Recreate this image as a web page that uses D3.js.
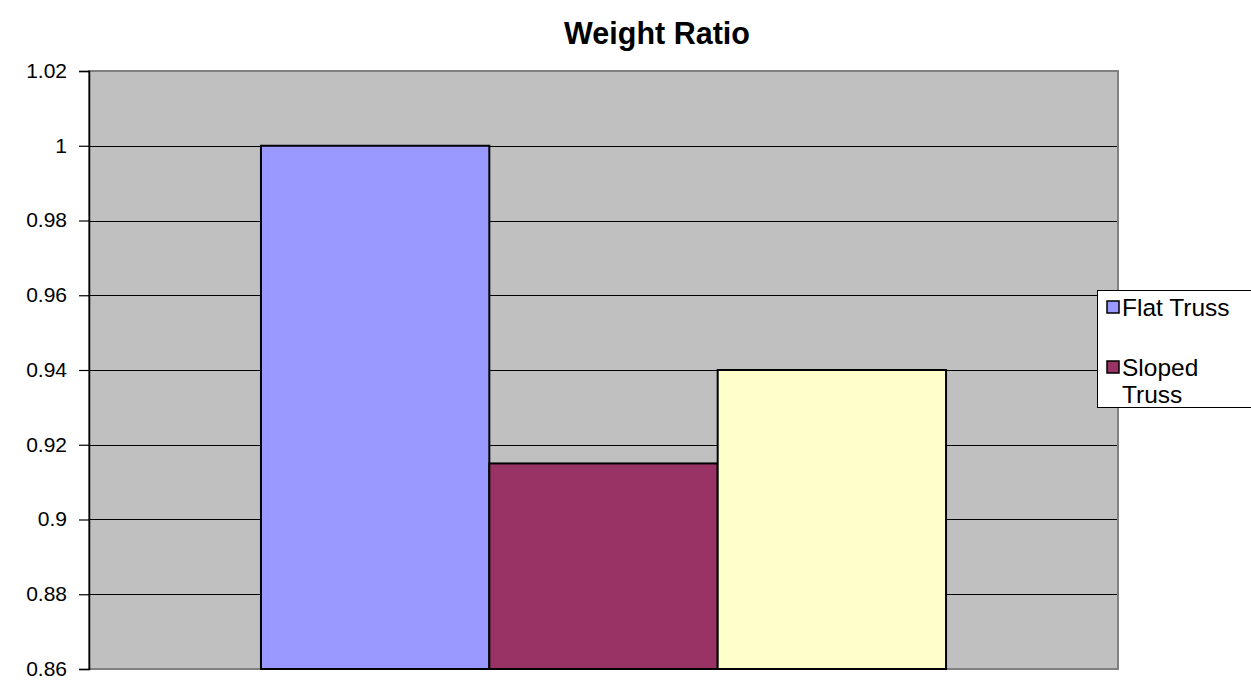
<!DOCTYPE html>
<html>
<head>
<meta charset="utf-8">
<script src="https://cdn.jsdelivr.net/npm/d3@7"></script>
<style>
  html, body { margin: 0; padding: 0; background: #fff; }
  svg { display: block; font-family: "Liberation Sans", Arial, sans-serif; }
</style>
</head>
<body>
<svg id="chart" width="1251" height="681"></svg>
<script>
// Weight ratio of truss types, one category with three series
const categories = ["Weight Ratio"];
const seriesNames = ["Flat Truss", "Sloped Truss", "Series3"];
const seriesValues = [1.0, 0.915, 0.94];
const seriesColors = ["#9999FF", "#993366", "#FFFFCC"];
const legendLabels = [["Flat Truss"], ["Sloped", "Truss"]];
const tickValues = [0.86, 0.88, 0.9, 0.92, 0.94, 0.96, 0.98, 1.0, 1.02];
const tickLabels = ["0.86", "0.88", "0.9", "0.92", "0.94", "0.96", "0.98", "1", "1.02"];

const svg = d3.select("#chart");
const plot = { left: 89, right: 1118, top: 71, bottom: 669 };

const y = d3.scaleLinear().domain([0.86, 1.02]).range([plot.bottom, plot.top]);
const x0 = d3.scaleBand().domain(categories).range([plot.left, plot.right])
  .paddingInner(0).paddingOuter(0.251);
const x1 = d3.scaleBand().domain(seriesNames).range([0, x0.bandwidth()]).padding(0);

// Plot area background
svg.append("rect")
  .attr("x", plot.left).attr("y", plot.top)
  .attr("width", plot.right - plot.left).attr("height", plot.bottom - plot.top)
  .attr("fill", "#C0C0C0");

// Horizontal gridlines
svg.append("g")
  .selectAll("line")
  .data(tickValues.filter(v => v > 0.86 && v < 1.02))
  .join("line")
  .attr("x1", plot.left).attr("x2", plot.right)
  .attr("y1", d => Math.round(y(d)) + 0.5).attr("y2", d => Math.round(y(d)) + 0.5)
  .attr("stroke", "#000").attr("stroke-width", 1.2);

// Plot area border
svg.append("rect")
  .attr("x", plot.left).attr("y", plot.top)
  .attr("width", plot.right - plot.left).attr("height", plot.bottom - plot.top)
  .attr("fill", "none").attr("stroke", "#808080").attr("stroke-width", 2);

// Bars
svg.append("g")
  .selectAll("rect")
  .data(seriesValues.map((v, i) => ({ name: seriesNames[i], value: v, color: seriesColors[i] })))
  .join("rect")
  .attr("x", d => x0(categories[0]) + x1(d.name))
  .attr("y", d => y(d.value))
  .attr("width", x1.bandwidth())
  .attr("height", d => y(0.86) - y(d.value))
  .attr("fill", d => d.color)
  .attr("stroke", "#000").attr("stroke-width", 2);

// Value axis
const yAxis = d3.axisLeft(y)
  .tickValues(tickValues)
  .tickFormat((d, i) => tickLabels[i])
  .tickSize(10).tickPadding(12);
const axisG = svg.append("g")
  .attr("transform", `translate(${plot.left},0)`)
  .call(yAxis);
axisG.select(".domain").attr("stroke", "#000").attr("stroke-width", 1.5);
axisG.selectAll(".tick line").attr("stroke", "#000").attr("stroke-width", 1.2);
axisG.selectAll(".tick text")
  .attr("font-size", 21).attr("fill", "#000").attr("dy", "0.3em")
  .attr("font-family", "'Liberation Sans', Arial, sans-serif");

// Title
svg.append("text")
  .attr("x", 657).attr("y", 44)
  .attr("text-anchor", "middle")
  .attr("font-size", 30.5).attr("font-weight", "bold")
  .text(categories[0]);

// Legend
const legend = svg.append("g");
legend.append("rect")
  .attr("x", 1097.5).attr("y", 290.5)
  .attr("width", 200).attr("height", 117)
  .attr("fill", "#fff").attr("stroke", "#000").attr("stroke-width", 1);

const legendRows = [{ y: 307 }, { y: 367 }];
legendLabels.forEach((lines, i) => {
  const ry = legendRows[i].y;
  legend.append("rect")
    .attr("x", 1107).attr("y", ry - 6)
    .attr("width", 12).attr("height", 12)
    .attr("fill", seriesColors[i]).attr("stroke", "#000").attr("stroke-width", 1.5);
  lines.forEach((t, j) => {
    legend.append("text")
      .attr("x", 1122).attr("y", ry + 9 + j * 27)
      .attr("font-size", 24.5).attr("fill", "#000")
      .text(t);
  });
});
</script>
</body>
</html>
